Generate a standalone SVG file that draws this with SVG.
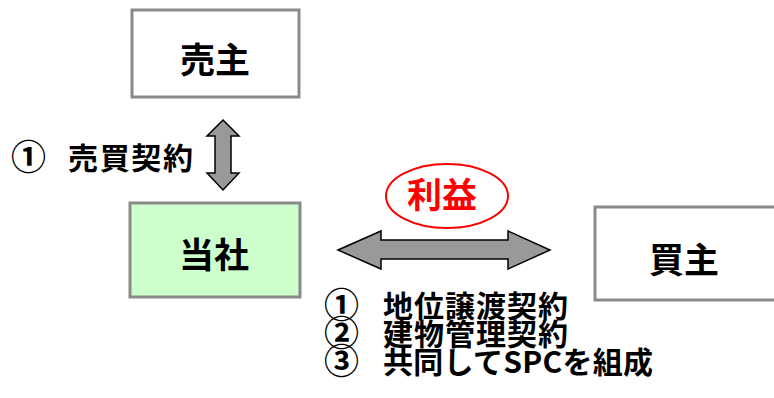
<svg xmlns="http://www.w3.org/2000/svg" width="774" height="398" viewBox="0 0 774 398">
<style>
.box{stroke:#8a8a8a;stroke-width:3}
.t{font-family:"Noto Sans CJK JP","Liberation Sans",sans-serif;font-weight:bold;fill:#000}
.big{font-size:35px;text-anchor:middle}
.lbl{font-size:30px}
.num{font-size:35px}
.arrow{fill:#999;stroke:#000;stroke-width:1.5;stroke-linejoin:miter}
</style>
<rect width="774" height="398" fill="#fff"/>
<g id="seller">
<rect class="box" x="132" y="10" width="167" height="87" fill="#fff"/>
<text class="t big" x="215" y="73">売主</text>
</g>
<g id="company">
<rect class="box" x="130" y="203" width="170" height="94" fill="#ccffcc"/>
<text class="t big" x="214" y="268">当社</text>
</g>
<g id="buyer">
<rect class="box" x="595" y="207" width="185" height="93" fill="#fff"/>
<text class="t big" x="684" y="273">買主</text>
</g>
<g id="profit">
<ellipse cx="447" cy="196" rx="61" ry="32" fill="#fff" stroke="#ff0000" stroke-width="2"/>
<text class="t big" x="442" y="208" style="fill:#ff0000">利益</text>
</g>
<g id="connectors">
<polygon class="arrow" points="223,120 239,136 231,136 231,173 239,173 223,190 207,173 215,173 215,136 207,136"/>
<polygon class="arrow" points="338,250 381,231 381,240 508,240 508,231 550,250 508,269 508,259 381,259 381,269"/>
</g>
<g id="labels">
<text class="t lbl" y="169"><tspan x="11" class="num" dy="1">①</tspan><tspan x="68" dy="-1" textLength="125" lengthAdjust="spacing">売買契約</tspan></text>
<text class="t lbl" y="317"><tspan x="324" class="num" dy="1">①</tspan><tspan x="383" dy="-1" textLength="185" lengthAdjust="spacing">地位譲渡契約</tspan></text>
<text class="t lbl" y="345"><tspan x="324" class="num" dy="1">②</tspan><tspan x="383" dy="-1" textLength="185" lengthAdjust="spacing">建物管理契約</tspan></text>
<text class="t lbl" y="373"><tspan x="324" class="num" dy="1">③</tspan><tspan x="383" dy="-1" textLength="270" lengthAdjust="spacing">共同してSPCを組成</tspan></text>
</g>
</svg>
